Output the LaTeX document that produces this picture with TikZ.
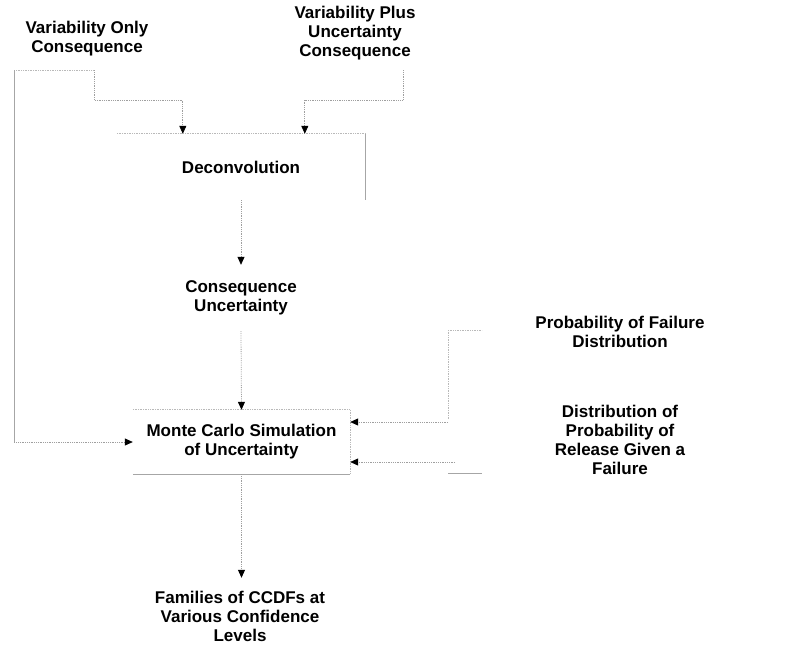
\documentclass[tikz,border=0pt]{standalone}
\usepackage{fontspec}
\setmainfont{Liberation Sans}
\usetikzlibrary{arrows.meta,calc}
\begin{document}
\begin{tikzpicture}[x=1pt,y=-1pt,
  lbl/.style={font=\bfseries\fontsize{17}{19}\selectfont, align=center, inner sep=0pt, text=black},
  boxnode/.style={lbl, rectangle},
  conn/.style={draw=gray!75, densely dotted, line width=0.8pt,
    -{Triangle[length=8pt,width=7pt,color=black]}},
  faint/.style={draw=gray!55, densely dotted, line width=0.7pt},
  edge/.style={draw=gray!70, line width=0.8pt}]
\useasboundingbox (0,0) rectangle (791,648);
% nodes
\node[lbl, minimum width=145pt, minimum height=62pt] (vo) at (87,39) {Variability Only\\Consequence};
\node[lbl, minimum height=74pt] (vpu) at (355,33) {Variability Plus\\Uncertainty\\Consequence};
\node[boxnode, minimum width=248pt, minimum height=66pt] (dec) at (241,167) {Deconvolution};
\node[boxnode, minimum width=248pt, minimum height=66pt] (cu) at (241,298) {Consequence\\Uncertainty};
\node[boxnode, minimum width=217pt, minimum height=64pt] (mc) at (241.5,442) {Monte Carlo Simulation\\of Uncertainty};
\node[lbl, minimum height=76pt] (fam) at (240,616) {Families of CCDFs at\\Various Confidence\\Levels};
\node[lbl] (pof) at (620,332) {Probability of Failure\\Distribution};
\node[lbl] (drp) at (620,440) {Distribution of\\Probability of\\Release Given a\\Failure};
\coordinate (pofL) at (448,422);
\coordinate (drpL) at (455,462);
% box fragments
\draw[faint] (vo.south west) -- ++(80,0);
\draw[faint] (dec.north west) -- (dec.north east);
\draw[edge] (dec.north east) -- (dec.south east);
\draw[faint] (mc.north west) -- (mc.north east);
\draw[faint] (mc.north east) -- (mc.south east);
\draw[edge] (mc.south west) -- (mc.south east);
\draw[faint] (448,330) -- (482,330);
\draw[faint] (448,330) -- (448,420);
\draw[edge] (448,473) -- (482,473);
% connectors
\draw[edge] (vo.south west) -- (vo.south west |- mc.west);
\draw[conn] (vo.south west |- mc.west) -- (mc.west);
\draw[conn] ($(vo.south west)+(80,0)$) -- ++(0,30) -| ($(dec.north west)+(66,0)$);
\draw[conn] ($(vpu.south)+(48,0)$) -- ++(0,30) -| ($(dec.north west)+(188,0)$);
\draw[conn] (dec.south) -- (dec.south |- cu.north);
\draw[conn] (cu.south) -- (mc.north);
\draw[conn] (mc.south) -- (mc.south |- fam.north);
\draw[conn] (pofL) -- (pofL -| mc.east);
\draw[conn] (drpL) -- (drpL -| mc.east);
\end{tikzpicture}
\end{document}
